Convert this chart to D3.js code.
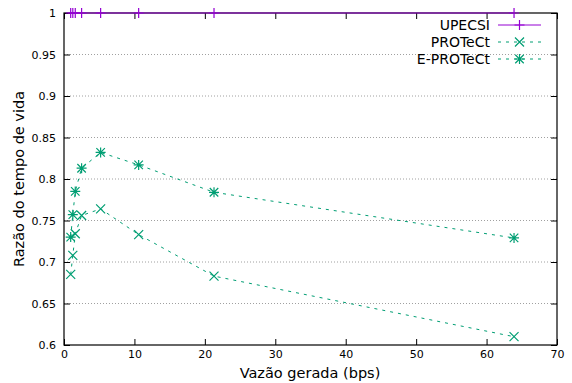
<!DOCTYPE html>
<html>
<head>
<meta charset="utf-8">
<script src="https://cdn.jsdelivr.net/npm/d3@7"></script>
<style>
  html, body { margin: 0; padding: 0; background: #fff; }
  svg { display: block; font-family: "DejaVu Sans", sans-serif; }
</style>
</head>
<body>
<svg id="chart" width="572" height="383"></svg>
<script>
// Generated throughput (bps) for each measurement
const rates = [0.95, 1.25, 1.6, 2.5, 5.2, 10.6, 21.3, 63.9];

// Lifetime ratio per protocol
const upecsi = [1, 1, 1, 1, 1, 1, 1, 1];
const protect = [0.685, 0.708, 0.734, 0.756, 0.764, 0.733, 0.683, 0.610];
const eProtect = [0.730, 0.757, 0.785, 0.813, 0.832, 0.817, 0.784, 0.729];

const xTicks = [0, 10, 20, 30, 40, 50, 60, 70];
const yTicks = [0.6, 0.65, 0.7, 0.75, 0.8, 0.85, 0.9, 0.95, 1];

const seriesNames = ["UPECSI", "PROTeCt", "E-PROTeCt"];

const svg = d3.select("#chart");
const m = { left: 64, right: 557, top: 13, bottom: 345 };

const x = d3.scaleLinear().domain([0, 70]).range([m.left, m.right]);
const y = d3.scaleLinear().domain([0.6, 1]).range([m.bottom, m.top]);

const purple = "#9400d3";
const green = "#009e73";

// Horizontal dotted grid
svg.append("g")
  .selectAll("line")
  .data(yTicks.filter(v => v > 0.6 && v < 1))
  .join("line")
  .attr("x1", m.left).attr("x2", m.right)
  .attr("y1", d => y(d)).attr("y2", d => y(d))
  .attr("stroke", "#a0a0a0").attr("stroke-width", 1)
  .attr("stroke-dasharray", "1,2");

// Axes with inward ticks, mirrored on opposite sides
const tickLen = 6;
const bottomAxis = svg.append("g").attr("transform", `translate(0,${m.bottom})`)
  .call(d3.axisBottom(x).tickValues(xTicks).tickSize(-tickLen).tickPadding(5).tickFormat(d3.format("d")));
const topAxis = svg.append("g").attr("transform", `translate(0,${m.top})`)
  .call(d3.axisTop(x).tickValues(xTicks).tickSize(-tickLen).tickFormat(""));
const leftAxis = svg.append("g").attr("transform", `translate(${m.left},0)`)
  .call(d3.axisLeft(y).tickValues(yTicks).tickSize(-tickLen).tickPadding(8)
    .tickFormat(d => d === 1 ? "1" : d3.format("")(+d.toFixed(2))));
const rightAxis = svg.append("g").attr("transform", `translate(${m.right},0)`)
  .call(d3.axisRight(y).tickValues(yTicks).tickSize(-tickLen).tickFormat(""));

[bottomAxis, topAxis, leftAxis, rightAxis].forEach(g => {
  g.select(".domain").remove();
  g.selectAll(".tick line").attr("stroke", "#000");
  g.selectAll("text").attr("font-size", 11).attr("fill", "#000")
    .attr("font-family", "DejaVu Sans, sans-serif");
});

// Plot border
svg.append("rect")
  .attr("x", m.left).attr("y", m.top)
  .attr("width", m.right - m.left).attr("height", m.bottom - m.top)
  .attr("fill", "none").attr("stroke", "#000").attr("stroke-width", 1.2);

// Axis titles
svg.append("text")
  .attr("x", 310).attr("y", 378)
  .attr("text-anchor", "middle").attr("font-size", 14.5)
  .text("Vazão gerada (bps)");
svg.append("text")
  .attr("transform", `translate(24,${(m.top + m.bottom) / 2}) rotate(-90)`)
  .attr("text-anchor", "middle").attr("font-size", 14.5)
  .text("Razão do tempo de vida");

// Marker shapes
function plusPath(s) { return `M${-s},0H${s}M0,${-s}V${s}`; }
function crossPath(s) { return `M${-s},${-s}L${s},${s}M${-s},${s}L${s},${-s}`; }
function starPath(s) { return plusPath(s) + crossPath(s * 0.85); }

const series = [
  { name: seriesNames[0], vals: upecsi, color: purple, dash: null, marker: plusPath, size: 5 },
  { name: seriesNames[1], vals: protect, color: green, dash: "3,5", marker: crossPath, size: 4.5 },
  { name: seriesNames[2], vals: eProtect, color: green, dash: "3,5", marker: starPath, size: 5 }
];

const line = d3.line().x(d => x(d[0])).y(d => y(d[1]));

series.forEach(s => {
  const pts = rates.map((r, i) => [r, s.vals[i]]);
  svg.append("path")
    .datum(pts)
    .attr("d", line)
    .attr("fill", "none").attr("stroke", s.color).attr("stroke-width", 1)
    .attr("stroke-dasharray", s.dash);
  svg.append("g").selectAll("path")
    .data(pts)
    .join("path")
    .attr("transform", d => `translate(${x(d[0])},${y(d[1])})`)
    .attr("d", s.marker(s.size))
    .attr("fill", "none").attr("stroke", s.color).attr("stroke-width", 1.2);
});

// Legend
const legend = svg.append("g");
series.forEach((s, i) => {
  const ly = 25 + i * 17;
  legend.append("text")
    .attr("x", 490).attr("y", ly).attr("dy", "0.35em")
    .attr("text-anchor", "end").attr("font-size", 14)
    .text(s.name);
  legend.append("line")
    .attr("x1", 498).attr("x2", 541).attr("y1", ly).attr("y2", ly)
    .attr("stroke", s.color).attr("stroke-width", 1)
    .attr("stroke-dasharray", s.dash);
  legend.append("path")
    .attr("transform", `translate(519.5,${ly})`)
    .attr("d", s.marker(s.size))
    .attr("fill", "none").attr("stroke", s.color).attr("stroke-width", 1.2);
});
</script>
</body>
</html>
